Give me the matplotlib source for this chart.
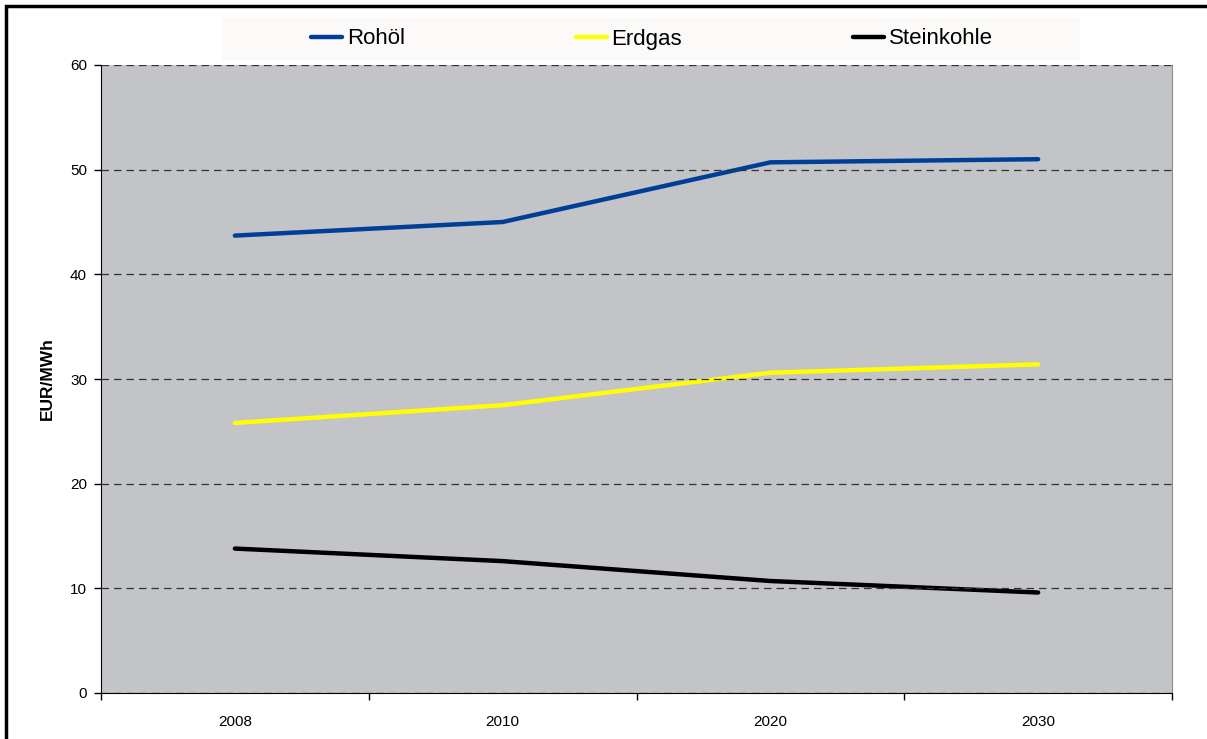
import matplotlib.pyplot as plt
from matplotlib.patches import Rectangle

plt.rcParams["font.family"] = ["Liberation Sans", "DejaVu Sans"]

years = ["2008", "2010", "2020", "2030"]
rohoel = [43.7, 45.0, 50.7, 51.0]
erdgas = [25.8, 27.5, 30.6, 31.4]
steinkohle = [13.8, 12.6, 10.7, 9.6]

series = [
    ("Rohöl", rohoel, "#003f98"),
    ("Erdgas", erdgas, "#ffff00"),
    ("Steinkohle", steinkohle, "#000000"),
]

fig = plt.figure(figsize=(12.07, 7.39), dpi=100)
W, H = 1207, 739
ax = fig.add_axes([101 / W, 1 - 693 / H, (1172 - 101) / W, (693 - 65) / H])
ax.set_facecolor("#c3c4c8")

x = list(range(len(years)))
for name, vals, col in series:
    ax.plot(x, vals, color=col, linewidth=3.2, label=name, solid_capstyle="round")

ax.set_xlim(-0.5, len(years) - 0.5)
ax.set_ylim(0, 60)
ax.set_yticks(range(0, 61, 10))
ax.set_xticks(x)
ax.set_xticklabels(years)
ax.set_xticks([i - 0.5 for i in range(len(years) + 1)], minor=True)
ax.tick_params(axis="x", which="major", length=0, pad=16, labelsize=11)
ax.tick_params(axis="x", which="minor", length=5, width=1, direction="out")
ax.tick_params(axis="y", length=5, width=1, direction="out", labelsize=11, pad=5)

ax.yaxis.grid(True, linestyle=(0, (6, 4)), color="#333333", linewidth=0.9)
ax.set_axisbelow(False)
for ln in ax.get_ygridlines():
    ln.set_zorder(1.5)

ax.spines["top"].set_visible(False)
ax.spines["right"].set_color("#8c8c8c")
ax.spines["left"].set_color("black")
ax.spines["bottom"].set_color("black")

ax.set_ylabel("EUR/MWh", fontweight="bold", fontsize=12.5)
ax.yaxis.set_label_coords(-46 / (1172 - 101), 0.5)

# legend band
fig.patches.append(Rectangle((222 / W, 1 - 60 / H), (1080 - 222) / W, 43 / H,
                             transform=fig.transFigure, facecolor="#fbfaf8",
                             edgecolor="none", zorder=0))
handles, labels = ax.get_legend_handles_labels()
leg = fig.legend(handles, labels, loc="center", ncol=3,
                 bbox_to_anchor=(652 / W, 1 - 39 / H), frameon=False,
                 fontsize=16, handlelength=1.4, handletextpad=0.2,
                 columnspacing=7.7)

# outer frame (cut at right and bottom)
fig.patches.append(Rectangle((6 / W, -0.1), 1.2, (1 - 6 / H) + 0.1,
                             transform=fig.transFigure, facecolor="none",
                             edgecolor="black", linewidth=2.5, zorder=5))

fig.savefig("out.png", dpi=100)
